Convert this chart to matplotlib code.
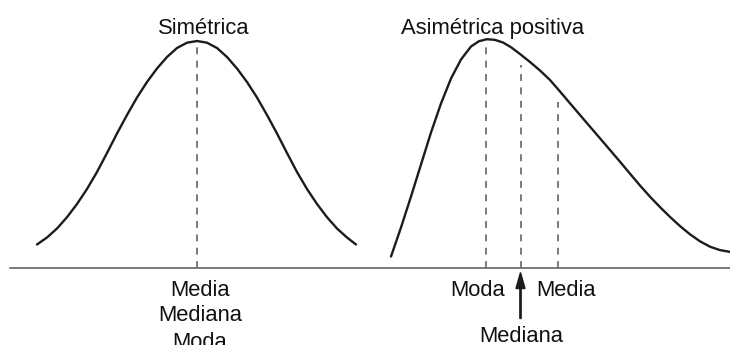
import numpy as np
import matplotlib.pyplot as plt

plt.rcParams['font.family'] = ['Liberation Sans', 'DejaVu Sans']

# curves: x position and height above the base line
sym_x = [37, 47, 57, 67, 77, 87, 97, 107, 117, 127, 137, 147, 157, 167, 177, 187, 197,
         207, 217, 227, 237, 247, 257, 267, 277, 287, 297, 307, 317, 327, 337, 347, 356]
sym_y = [23, 30, 39, 50.3, 63.5, 78.5, 95.5, 114.5, 134, 152.5, 170, 185.5, 199,
         210.5, 219.5, 224.8, 226.5, 224.8, 219.5, 210.5, 199, 185.5, 170, 152.5,
         134, 114.5, 95.5, 78.5, 63.5, 50.3, 39, 30, 23]

skew_x = [391, 401, 411, 421, 431, 441, 451, 461, 471, 479, 487, 495, 503, 511,
          520, 530, 540, 550, 560, 570, 580, 590, 600, 610, 620, 630, 640, 650,
          660, 670, 680, 690, 700, 710, 720, 730]
skew_y = [11, 40, 71, 103, 135, 164, 189, 208, 221, 226.3, 228.3, 227.6, 225, 220.3,
          213.5, 205.5, 197, 187.5, 176, 164.2, 152.5, 140.8, 129.2, 117.5, 105.8,
          93.8, 82, 70.8, 60.4, 50.6, 41.4, 33.2, 26.2, 20.8, 17.4, 15.6]

# dashed markers (position, top of the dashed line)
sym_mark_x = [197]
sym_mark_top = [226]
skew_mark_x = [486, 520.5, 557.5]
skew_mark_top = [227.5, 203, 166]

titles = ['Simétrica', 'Asimétrica positiva']
title_x = [204, 493]
sym_labels = ['Media', 'Mediana', 'Moda']
skew_labels = ['Moda', 'Media']
skew_label_x = [478, 566.5]

fig = plt.figure(figsize=(7.3, 3.45), dpi=100)
ax = fig.add_axes([0, 0, 1, 1])
ax.set_xlim(0, 730)
ax.set_ylim(-77.5, 267.5)
ax.axis('off')

# base line
ax.axhline(0, xmin=10 / 730, xmax=1, color='#555555', lw=1.1)

# curves
for xs, ys in [(sym_x, sym_y), (skew_x, skew_y)]:
    ax.plot(xs, ys, color='#1c1c1c', lw=1.7, solid_joinstyle='round',
            solid_capstyle='round')

# dashed verticals
for mx, mt in zip(sym_mark_x + skew_mark_x, sym_mark_top + skew_mark_top):
    ax.plot([mx, mx], [0, mt], color='#707070', lw=1.3, dashes=(3.8, 3.6))

fs = 15.8
tc = '#111111'
ax.text(title_x[0], 234, titles[0], ha='center', va='baseline', fontsize=fs, color=tc)
ax.text(title_x[1], 233.5, titles[1], ha='center', va='baseline', fontsize=fs, color=tc)

for lab, yb in zip(sym_labels, [-28.2, -53.5, -80]):
    ax.text(200, yb, lab, ha='center', va='baseline', fontsize=fs, color=tc)

for lab, lx in zip(skew_labels, skew_label_x):
    ax.text(lx, -28.5, lab, ha='center', va='baseline', fontsize=fs, color=tc)

# arrow pointing at the median
ax.arrow(skew_mark_x[1], -51, 0, 46, width=1.3, head_width=9, head_length=16,
         length_includes_head=True, color='#1c1c1c')
ax.text(521.5, -74.2, 'Mediana', ha='center', va='baseline', fontsize=fs, color=tc)

fig.savefig('out.png', dpi=100)
